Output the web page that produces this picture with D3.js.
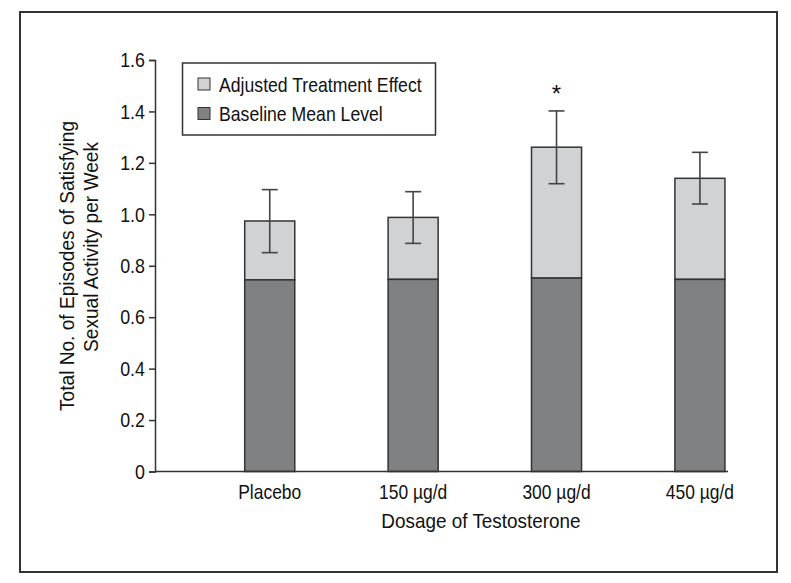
<!DOCTYPE html>
<html>
<head>
<meta charset="utf-8">
<script src="https://cdn.jsdelivr.net/npm/d3@7"></script>
<style>
  body { margin: 0; background: #fff; }
  text { font-family: "Liberation Sans", Arial, sans-serif; fill: #111; }
</style>
</head>
<body>
<div id="chart"></div>
<script>
const categories = ['Placebo', '150 \u00b5g/d', '300 \u00b5g/d', '450 \u00b5g/d'];
const baseline = [0.745, 0.747, 0.752, 0.747];
const total = [0.974, 0.988, 1.261, 1.140];
const errLow = [0.851, 0.887, 1.119, 1.040];
const errHigh = [1.096, 1.088, 1.402, 1.241];
const marks = ['', '', '*', ''];
const yTicks = [0, 0.2, 0.4, 0.6, 0.8, 1.0, 1.2, 1.4, 1.6];

const width = 791, height = 583;
const light = '#d1d2d4', dark = '#808183';
const fontSize = '21px';

const svg = d3.select('#chart').append('svg')
  .attr('width', width)
  .attr('height', height);

// outer frame
svg.append('rect')
  .attr('x', 20).attr('y', 12)
  .attr('width', 757).attr('height', 560)
  .attr('fill', 'none')
  .attr('stroke', '#333')
  .attr('stroke-width', 2);

const x = d3.scaleBand()
  .domain(categories)
  .range([155, 728])
  .paddingInner(0.651)
  .paddingOuter(0.3235)
  .align(0.967);

const y = d3.scaleLinear()
  .domain([0, 1.6])
  .range([471.5, 60]);

// y axis
const yAxis = svg.append('g')
  .attr('transform', 'translate(155,0)')
  .call(d3.axisLeft(y)
    .tickValues(yTicks)
    .tickSize(6)
    .tickPadding(4)
    .tickFormat(d => d === 0 ? '0' : d3.format('.1f')(d)));
yAxis.select('.domain').attr('stroke', '#333').attr('stroke-width', 1.5);
yAxis.selectAll('.tick line').attr('stroke', '#333').attr('stroke-width', 1.5);
yAxis.selectAll('.tick text')
  .style('font-family', '"Liberation Sans", Arial, sans-serif')
  .style('font-size', fontSize)
  .attr('fill', '#111')
  .attr('data-k', 0.85);

const data = categories.map((c, i) => ({
  c, base: baseline[i], total: total[i], lo: errLow[i], hi: errHigh[i], mark: marks[i]
}));

const bars = svg.append('g');

// treatment effect (upper) segment
bars.selectAll('rect.top').data(data).enter().append('rect')
  .attr('class', 'top')
  .attr('x', d => x(d.c))
  .attr('y', d => y(d.total))
  .attr('width', x.bandwidth())
  .attr('height', d => y(d.base) - y(d.total))
  .attr('fill', light)
  .attr('stroke', '#333')
  .attr('stroke-width', 1.5);

// baseline segment
bars.selectAll('rect.base').data(data).enter().append('rect')
  .attr('class', 'base')
  .attr('x', d => x(d.c))
  .attr('y', d => y(d.base))
  .attr('width', x.bandwidth())
  .attr('height', d => y(0) - y(d.base))
  .attr('fill', dark)
  .attr('stroke', '#333')
  .attr('stroke-width', 1.5);

// x axis line
svg.append('line')
  .attr('x1', 155).attr('x2', x.range()[1])
  .attr('y1', y(0)).attr('y2', y(0))
  .attr('stroke', '#333')
  .attr('stroke-width', 1.5);

// error bars
const err = svg.append('g')
  .attr('stroke', '#444')
  .attr('stroke-width', 1.6);
const cx = d => x(d.c) + x.bandwidth() / 2;
err.selectAll('line.v').data(data).enter().append('line')
  .attr('x1', cx).attr('x2', cx)
  .attr('y1', d => y(d.lo)).attr('y2', d => y(d.hi));
err.selectAll('line.hi').data(data).enter().append('line')
  .attr('x1', d => cx(d) - 8).attr('x2', d => cx(d) + 8)
  .attr('y1', d => y(d.hi)).attr('y2', d => y(d.hi));
err.selectAll('line.lo').data(data).enter().append('line')
  .attr('x1', d => cx(d) - 8).attr('x2', d => cx(d) + 8)
  .attr('y1', d => y(d.lo)).attr('y2', d => y(d.lo));

// significance marks
svg.selectAll('text.mark').data(data).enter().append('text')
  .attr('class', 'mark')
  .attr('x', cx)
  .attr('y', d => y(d.hi) - 9)
  .attr('text-anchor', 'middle')
  .style('font-size', '24px')
  .text(d => d.mark);

// category labels
svg.selectAll('text.cat').data(data).enter().append('text')
  .attr('class', 'cat')
  .attr('x', cx)
  .attr('y', 499)
  .attr('text-anchor', 'middle')
  .attr('data-k', 0.83)
  .style('font-size', fontSize)
  .text(d => d.c);

// axis titles
svg.append('text')
  .attr('x', 481)
  .attr('y', 528)
  .attr('text-anchor', 'middle')
  .attr('data-k', 0.9)
  .style('font-size', fontSize)
  .text('Dosage of Testosterone');

svg.append('text')
  .attr('transform', 'translate(74,266) rotate(-90)')
  .attr('text-anchor', 'middle')
  .attr('data-k', 0.91)
  .style('font-size', fontSize)
  .text('Total No. of Episodes of Satisfying');
svg.append('text')
  .attr('transform', 'translate(98,247) rotate(-90)')
  .attr('text-anchor', 'middle')
  .attr('data-k', 0.91)
  .style('font-size', fontSize)
  .text('Sexual Activity per Week');

// legend
const legendItems = [
  { label: 'Adjusted Treatment Effect', color: light },
  { label: 'Baseline Mean Level', color: dark }
];
const legend = svg.append('g');
legend.append('rect')
  .attr('x', 182.5).attr('y', 63)
  .attr('width', 253).attr('height', 72)
  .attr('fill', '#fff')
  .attr('stroke', '#333')
  .attr('stroke-width', 1.5);
const li = legend.selectAll('g.item').data(legendItems).enter().append('g')
  .attr('transform', (d, i) => `translate(198,${84 + i * 29.5})`);
li.append('rect')
  .attr('x', 0).attr('y', -6)
  .attr('width', 12).attr('height', 12)
  .attr('fill', d => d.color)
  .attr('stroke', '#333')
  .attr('stroke-width', 1);
li.append('text')
  .attr('x', 21)
  .attr('dy', '0.36em')
  .attr('data-k', 0.84)
  .style('font-size', fontSize)
  .text(d => d.label);

// condensed look: shrink each label horizontally by its factor
svg.selectAll('text[data-k]').each(function () {
  const k = +this.getAttribute('data-k');
  const w = this.getComputedTextLength();
  d3.select(this)
    .attr('textLength', w * k)
    .attr('lengthAdjust', 'spacingAndGlyphs');
});
</script>
</body>
</html>
